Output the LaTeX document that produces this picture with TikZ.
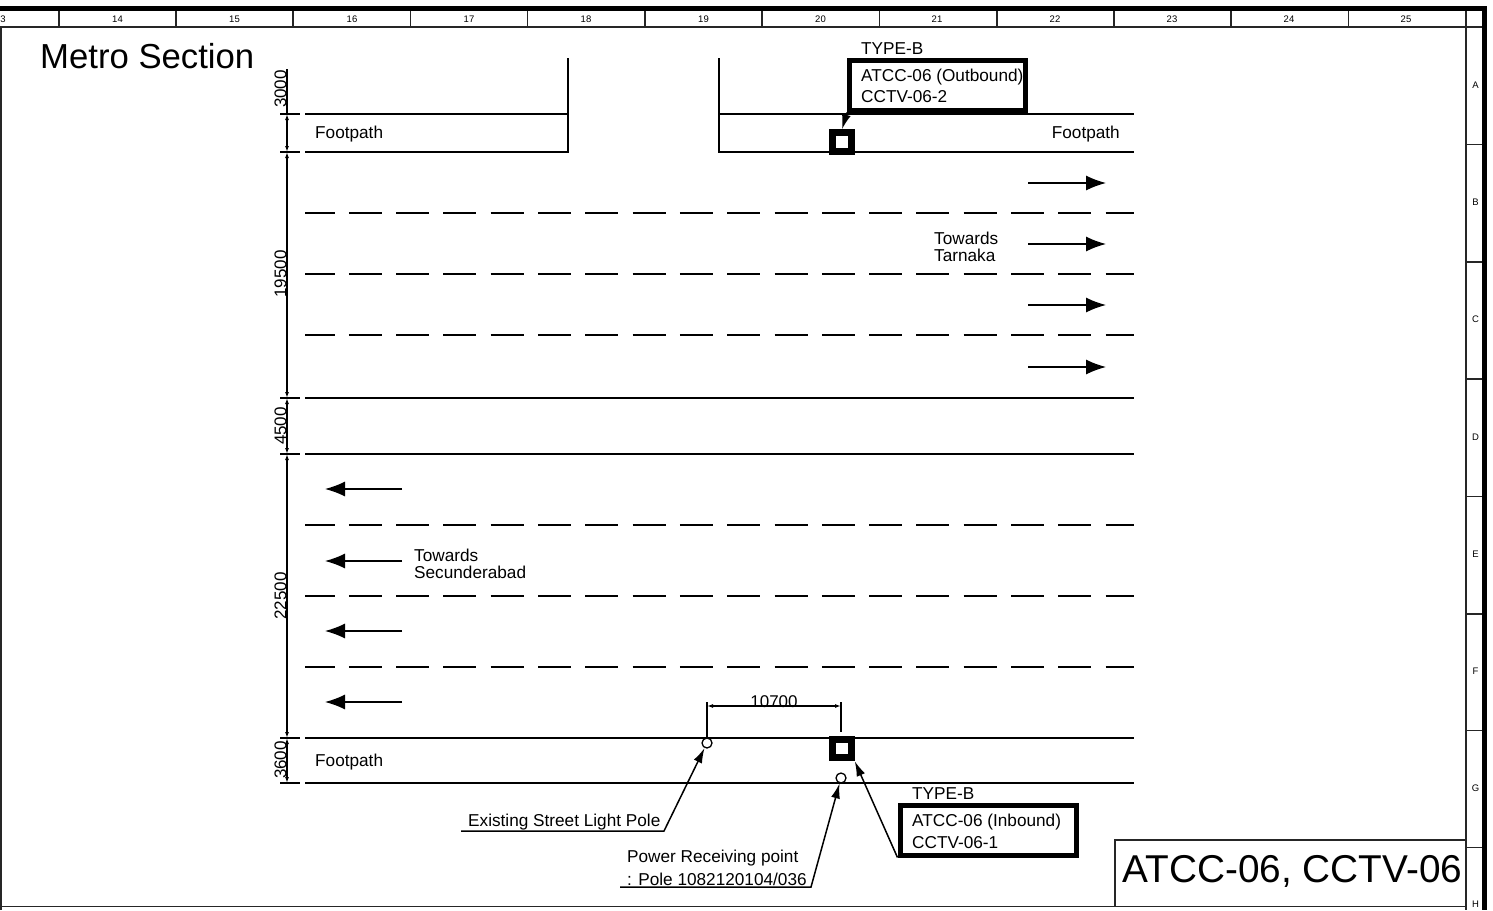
\documentclass[tikz,border=0pt]{standalone}
\usepackage{fontspec}
\setmainfont{Liberation Sans}
\usetikzlibrary{arrows.meta}
\tikzset{
    road/.style={line width=1.4pt},
    lane/.style={line width=1.4pt,dash pattern=on 33pt off 14.3pt,dash phase=3.5pt},
    gridline/.style={line width=1.1pt,draw=black!85},
    laneflow/.style={line width=1.3pt,-{Latex[length=20pt,width=15pt]}},
    leader/.style={line width=1.5pt,-{Latex[length=15pt,width=9pt]}},
    dimline/.style={line width=1.2pt,{Latex[length=6pt,width=4pt]}-{Latex[length=6pt,width=4pt]}},
    rulertext/.style={font=\fontsize{9.5}{11}\selectfont,inner sep=0pt},
    labeltext/.style={font=\fontsize{17.2}{18}\selectfont,inner sep=0pt,anchor=west,yshift=-1pt},
    dimtext/.style={font=\fontsize{17}{18}\selectfont,inner sep=0pt,rotate=90},
    camera/.style={draw,line width=7pt,fill=white,minimum size=18.5pt,inner sep=0pt},
    pole/.style={draw,circle,line width=1.3pt,fill=white,minimum size=10pt,inner sep=0pt},
    callout/.style={draw,line width=5pt,minimum width=176pt,minimum height=50pt,inner sep=0pt}
}
\begin{document}
\begin{tikzpicture}[x=1pt,y=-1pt]
        \useasboundingbox (0,0) rectangle (1493,910);

        \coordinate (h1) at (305,114);
        \coordinate (h2) at (305,152);
        \coordinate (h3) at (305,398);
        \coordinate (h4) at (305,454);
        \coordinate (h5) at (305,738);
        \coordinate (h6) at (305,783);
        \coordinate (d0) at (287,69);
        \coordinate (d1) at (287,114);
        \coordinate (d2) at (287,152);
        \coordinate (d3) at (287,398);
        \coordinate (d4) at (287,454);
        \coordinate (d5) at (287,738);
        \coordinate (d6) at (287,783);

        % frame
        \draw[line width=5pt] (0,8.5) -- (1484.5,8.5) -- (1484.5,910);
        \draw[gridline] (1,910) -- (1,27) -- (1482,27);
        \draw[gridline] (0,906.5) -- (1466,906.5);
        \draw[gridline] (1466,11) -- (1466,910);
        \draw[gridline] (59,11) -- (59,27) (176,11) -- (176,27) (293,11) -- (293,27) (410.5,11) -- (410.5,27)
            (527.5,11) -- (527.5,27) (645,11) -- (645,27) (762,11) -- (762,27) (879.5,11) -- (879.5,27)
            (997,11) -- (997,27) (1114,11) -- (1114,27) (1231,11) -- (1231,27) (1348.5,11) -- (1348.5,27);
        \draw[gridline] (1466,144.5) -- (1482,144.5) (1466,262) -- (1482,262) (1466,379) -- (1482,379)
            (1466,496.5) -- (1482,496.5) (1466,614) -- (1482,614) (1466,730.5) -- (1482,730.5) (1466,847.5) -- (1482,847.5);

        \node[rulertext] (col13) at (3,19.5) {3};
        \node[rulertext] (col14) at (117.5,19.5) {14};
        \node[rulertext] (col15) at (234.5,19.5) {15};
        \node[rulertext] (col16) at (352,19.5) {16};
        \node[rulertext] (col17) at (469,19.5) {17};
        \node[rulertext] (col18) at (586,19.5) {18};
        \node[rulertext] (col19) at (703.5,19.5) {19};
        \node[rulertext] (col20) at (820.5,19.5) {20};
        \node[rulertext] (col21) at (937,19.5) {21};
        \node[rulertext] (col22) at (1055,19.5) {22};
        \node[rulertext] (col23) at (1172,19.5) {23};
        \node[rulertext] (col24) at (1289,19.5) {24};
        \node[rulertext] (col25) at (1406,19.5) {25};
        \node[rulertext] (rowA) at (1475.5,85.5) {A};
        \node[rulertext] (rowB) at (1475.5,202.5) {B};
        \node[rulertext] (rowC) at (1475.5,319.5) {C};
        \node[rulertext] (rowD) at (1475.5,437) {D};
        \node[rulertext] (rowE) at (1475.5,554) {E};
        \node[rulertext] (rowF) at (1475.5,671) {F};
        \node[rulertext] (rowG) at (1475.5,788) {G};
        \node[rulertext] (rowH) at (1475.5,904) {H};

        \node[font=\fontsize{34.7}{36}\selectfont,inner sep=0pt,anchor=west] (sheettitle) at (40,56) {Metro Section};
        \node[draw=black!85,line width=1.1pt,minimum width=351pt,minimum height=66.5pt,inner sep=0pt] (titlebox) at (1290.5,873.25) {};
        \node[font=\fontsize{38.8}{40}\selectfont,inner sep=0pt] (titletext) at (1292.5,871) {ATCC-06, CCTV-06};

        % road
        \draw[road] (568,58) -- (568,152) -- (h2);
        \draw[road] (h1) -- (568,114);
        \draw[road] (719,58) -- (719,152) -- (1134,152);
        \draw[road] (719,114) -- (1134,114);
        \draw[lane] (h2 |- 0,213) -- (1134,213);
        \draw[lane] (h2 |- 0,274) -- (1134,274);
        \draw[lane] (h2 |- 0,335) -- (1134,335);
        \draw[road] (h3) -- (1134,398);
        \draw[road] (h4) -- (1134,454);
        \draw[lane] (h2 |- 0,525) -- (1134,525);
        \draw[lane] (h2 |- 0,596) -- (1134,596);
        \draw[lane] (h2 |- 0,667) -- (1134,667);
        \draw[road] (h5) -- (1134,738);
        \draw[road] (h6) -- (1134,783);

        \draw[laneflow] (1028,183) -- (1106,183);
        \draw[laneflow] (1028,244) -- (1106,244);
        \draw[laneflow] (1028,305) -- (1106,305);
        \draw[laneflow] (1028,367) -- (1106,367);
        \draw[laneflow] (402,489) -- (325,489);
        \draw[laneflow] (402,561) -- (325,561);
        \draw[laneflow] (402,631) -- (325,631);
        \draw[laneflow] (402,702) -- (325,702);

        \node[labeltext] (footpathA) at (315,133) {Footpath};
        \node[labeltext,anchor=east] (footpathB) at (1120,133) {Footpath};
        \node[labeltext] (footpathC) at (315,761) {Footpath};
        \node[labeltext] (towardsA) at (934,237) {Towards};
        \node[labeltext] (tarnaka) at (934,254) {Tarnaka};
        \node[labeltext] (towardsB) at (414,554) {Towards};
        \node[labeltext] (secunderabad) at (414,571) {Secunderabad};

        % dimensions
        \draw[line width=1.2pt] (d0) -- (d1);
        \draw[dimline] (d1) -- (d2);
        \draw[dimline] (d2) -- (d3);
        \draw[dimline] (d3) -- (d4);
        \draw[dimline] (d4) -- (d5);
        \draw[dimline] (d5) -- (d6);
        \draw[road] (280,114) -- (300,114) (280,152) -- (300,152) (280,398) -- (300,398)
            (280,454) -- (300,454) (280,738) -- (300,738) (280,783) -- (300,783);
        \node[dimtext] (dimA) at (280.5,89) {3000};
        \node[dimtext] (dimB) at (280.5,274) {19500};
        \node[dimtext] (dimC) at (280.5,426) {4500};
        \node[dimtext] (dimD) at (280.5,596) {22500};
        \node[dimtext] (dimE) at (280.5,760) {3600};

        % equipment
        \node[camera] (camout) at (842,142) {};
        \node[camera] (camin) at (842,748.5) {};
        \node[pole] (streetpole) at (707,743) {};
        \node[pole] (powerpole) at (841,778) {};

        \coordinate (span1) at (707,706);
        \coordinate (span2) at (841,706);
        \draw[line width=1.2pt] (streetpole.north) -- (707,702);
        \draw[line width=1.2pt] (841,702) -- (841,732);
        \draw[dimline] (span1) -- (span2);
        \node[font=\fontsize{17}{18}\selectfont,inner sep=0pt] (spantext) at (774,702) {10700};

        \node[callout] (boxout) at (937.5,85) {};
        \node[labeltext] (typeout) at (861,48) {TYPE-B};
        \node[labeltext] (nameout) at (861,76) {ATCC-06 (Outbound)};
        \node[labeltext] (cctvout) at (861,96) {CCTV-06-2};
        \node[callout] (boxin) at (988,830) {};
        \node[labeltext] (typein) at (912,793) {TYPE-B};
        \node[labeltext] (namein) at (912,821) {ATCC-06 (Inbound)};
        \node[labeltext] (cctvin) at (912,842) {CCTV-06-1};

        \draw[leader] (boxout.south west) -- (camout.north);
        \draw[leader] (boxin.south west) -- (camin.south east);

        \node[labeltext] (poletext) at (468,821) {Existing Street Light Pole};
        \node[labeltext] (powertext) at (627,857) {Power Receiving point};
        \node[labeltext] (poletag) at (627,878) {: Pole 1082120104/036};
        \coordinate (poleline) at (461,831);
        \coordinate (polebend) at (664,831);
        \coordinate (powerline) at (620,887);
        \coordinate (powerbend) at (811,887);
        \draw[leader] (poleline) -- (polebend) -- (streetpole);
        \draw[leader] (powerline) -- (powerbend) -- (powerpole);
    \end{tikzpicture}
\end{document}
